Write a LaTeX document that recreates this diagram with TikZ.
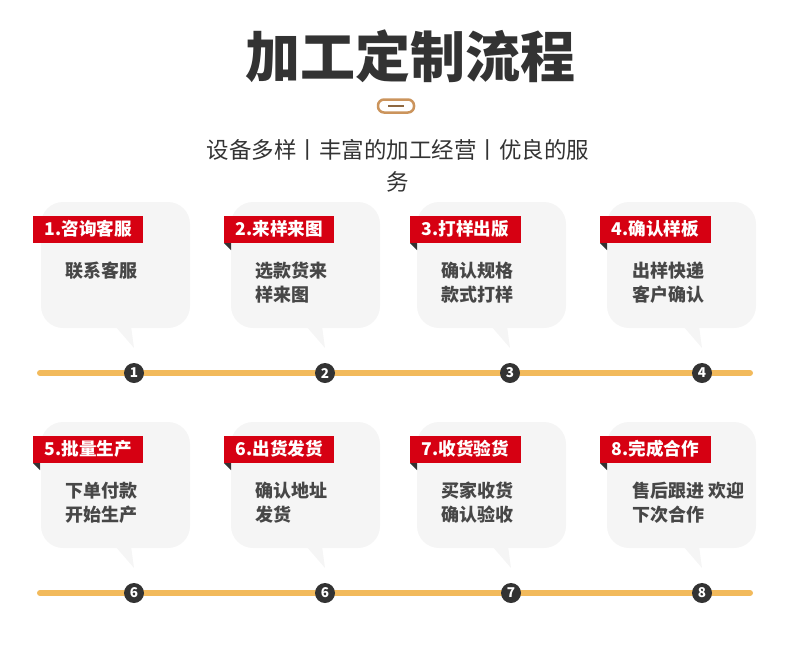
\documentclass[tikz,border=0pt]{standalone}
\usepackage{fontspec}
\setmainfont{Noto Sans CJK SC}
\usetikzlibrary{calc,positioning}

\definecolor{flowred}{RGB}{214,0,18}
\definecolor{flowgold}{RGB}{242,186,92}
\definecolor{flowgray}{RGB}{245,245,245}
\definecolor{flowdark}{RGB}{51,51,51}
\definecolor{flowtan}{RGB}{203,148,92}

\tikzset{
	title/.style={text=flowdark, font=\bfseries\fontsize{55}{55}\selectfont, inner sep=0pt},
	subtitle/.style={text=flowdark, font=\fontsize{22.5}{32}\selectfont, align=center, inner sep=0pt},
	badge/.style={draw=flowtan, line width=2.5pt, rounded corners=6pt, minimum width=36pt, minimum height=13pt, inner sep=0pt},
	bubble/.style={fill=flowgray, rounded corners=22pt, minimum width=149pt, minimum height=126pt, inner sep=0pt},
	tag/.style={fill=flowred, text=white, anchor=west, font=\bfseries\fontsize{17.6}{17.6}\selectfont, inner xsep=11.5pt, inner ysep=0pt, minimum height=27pt, text height=14.5pt, text depth=2pt},
	body/.style={text=flowdark!90!white, anchor=north west, align=left, font=\bfseries\fontsize{18}{24}\selectfont, inner sep=0pt},
	stepdot/.style={circle, fill=flowdark, text=white, minimum size=20pt, inner sep=0pt, font=\bfseries\fontsize{13.5}{13.5}\selectfont},
	rail/.style={flowgold, line width=6pt, line cap=round},
}

\begin{document}
\begin{tikzpicture}[x=1pt,y=-1pt]

\useasboundingbox (0,0) rectangle (790,654);

% heading %{{{2

	\node[title] (title) at (410,56) {加工定制流程};
	\node[badge] (badge) at (396,106) {};
	\draw[flowtan!70!black, line width=1.5pt] ($(badge.center)+(-8,0)$) -- ($(badge.center)+(8,0)$);
	\node[subtitle] (sub) at (398,166) {设备多样丨丰富的加工经营丨优良的服\\务};

% time lines %{{{2

	\coordinate (r1s) at (40,373);
	\coordinate (r1e) at (750,373);
	\coordinate (r2s) at (40,593);
	\coordinate (r2e) at (750,593);

	\draw[rail] (r1s) -- (r1e);
	\draw[rail] (r2s) -- (r2e);

	% ---- numbered dots

	\node[stepdot] (n1) at (134,373) {1};
	\node[stepdot] (n2) at (325,373) {2};
	\node[stepdot] (n3) at (510,373) {3};
	\node[stepdot] (n4) at (702,373) {4};
	\node[stepdot] (n5) at (134,593) {6};
	\node[stepdot] (n6) at (325,593) {6};
	\node[stepdot] (n7) at (511,593) {7};
	\node[stepdot] (n8) at (702,593) {8};

% bubbles %{{{2

	\node[bubble] (b1) at (115.5,265) {};
	\node[bubble] (b2) at (305.5,265) {};
	\node[bubble] (b3) at (491.5,265) {};
	\node[bubble] (b4) at (681.5,265) {};
	\node[bubble] (b5) at (115.5,485) {};
	\node[bubble] (b6) at (305.5,485) {};
	\node[bubble] (b7) at (491.5,485) {};
	\node[bubble] (b8) at (681.5,485) {};

	% ---- tails pointing to the dots

	\fill[flowgray] ($(n1)+(-19,-47)$) -- ($(n1)+(0,-25)$) -- ($(n1)+(-3,-47)$) -- cycle;
	\fill[flowgray] ($(n2)+(-19,-47)$) -- ($(n2)+(0,-25)$) -- ($(n2)+(-3,-47)$) -- cycle;
	\fill[flowgray] ($(n3)+(-19,-47)$) -- ($(n3)+(0,-25)$) -- ($(n3)+(-3,-47)$) -- cycle;
	\fill[flowgray] ($(n4)+(-19,-47)$) -- ($(n4)+(0,-25)$) -- ($(n4)+(-3,-47)$) -- cycle;
	\fill[flowgray] ($(n5)+(-19,-47)$) -- ($(n5)+(0,-25)$) -- ($(n5)+(-3,-47)$) -- cycle;
	\fill[flowgray] ($(n6)+(-19,-47)$) -- ($(n6)+(0,-25)$) -- ($(n6)+(-3,-47)$) -- cycle;
	\fill[flowgray] ($(n7)+(-19,-47)$) -- ($(n7)+(0,-25)$) -- ($(n7)+(-3,-47)$) -- cycle;
	\fill[flowgray] ($(n8)+(-19,-47)$) -- ($(n8)+(0,-25)$) -- ($(n8)+(-3,-47)$) -- cycle;

% red tags %{{{2

	\node[tag] (t1) at (33,229.5) {1.咨询客服};
	\node[tag] (t2) at (224,229.5) {2.来样来图};
	\node[tag] (t3) at (410,229.5) {3.打样出版};
	\node[tag] (t4) at (600,229.5) {4.确认样板};
	\node[tag] (t5) at (33,449.5) {5.批量生产};
	\node[tag] (t6) at (224,449.5) {6.出货发货};
	\node[tag] (t7) at (410,449.5) {7.收货验货};
	\node[tag] (t8) at (600,449.5) {8.完成合作};

	% ---- folded corners

	\fill[flowdark] (t2.south west) -- ++(7,0) -- ++(0,7) -- cycle;
	\fill[flowdark] (t3.south west) -- ++(7,0) -- ++(0,7) -- cycle;
	\fill[flowdark] (t4.south west) -- ++(7,0) -- ++(0,7) -- cycle;
	\fill[flowdark] (t5.south west) -- ++(7,0) -- ++(0,7) -- cycle;
	\fill[flowdark] (t6.south west) -- ++(7,0) -- ++(0,7) -- cycle;
	\fill[flowdark] (t7.south west) -- ++(7,0) -- ++(0,7) -- cycle;
	\fill[flowdark] (t8.south west) -- ++(7,0) -- ++(0,7) -- cycle;

% descriptions %{{{2

	\node[body] (c1) at (65,262) {联系客服};
	\node[body] (c2) at (255,262) {选款货来\\样来图};
	\node[body] (c3) at (441,262) {确认规格\\款式打样};
	\node[body] (c4) at (632,262) {出样快递\\客户确认};
	\node[body] (c5) at (65,482) {下单付款\\开始生产};
	\node[body] (c6) at (255,482) {确认地址\\发货};
	\node[body] (c7) at (441,482) {买家收货\\确认验收};
	\node[body] (c8) at (632,482) {售后跟进 欢迎\\下次合作};

% closing %{{{2

\end{tikzpicture}
\end{document}
